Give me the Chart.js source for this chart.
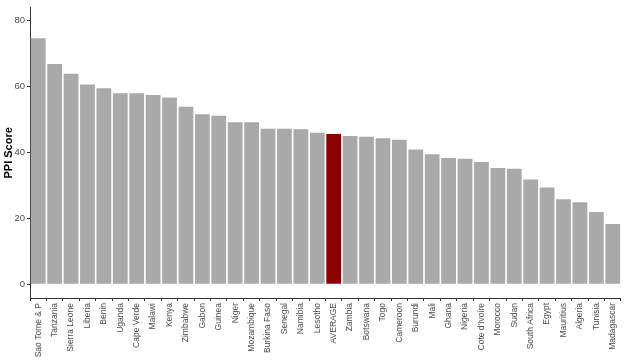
<!DOCTYPE html>
<html>
<head>
<meta charset="utf-8">
<script src="https://cdn.jsdelivr.net/npm/chart.js@4/dist/chart.umd.min.js"></script>
<style>
  html, body { margin: 0; padding: 0; background: #fff; }
  #wrap { width: 625px; height: 361px; position: relative; }
</style>
</head>
<body>
<div id="wrap"><canvas id="chart-ppi"></canvas></div>
<script>
// ── Data ──────────────────────────────────────────────────────────────────────
const countries = [
  'Sao Tome & P', 'Tanzania', 'Sierra Leone', 'Liberia', 'Benin', 'Uganda',
  'Cape Verde', 'Malawi', 'Kenya', 'Zimbabwe', 'Gabon', 'Guinea', 'Niger',
  'Mozambique', 'Burkina Faso', 'Senegal', 'Namibia', 'Lesotho', 'AVERAGE',
  'Zambia', 'Botswana', 'Togo', 'Cameroon', 'Burundi', 'Mali', 'Ghana',
  'Nigeria', "Cote d'Ivoire", 'Morocco', 'Sudan', 'South Africa', 'Egypt',
  'Mauritius', 'Algeria', 'Tunisia', 'Madagascar',
];
const ppiScores = [
  74.7, 66.9, 63.9, 60.7, 59.5, 58.0,
  58.0, 57.5, 56.7, 53.9, 51.6, 51.2, 49.2,
  49.2, 47.2, 47.2, 47.1, 46.0, 45.6,
  45.0, 44.8, 44.3, 43.9, 40.9, 39.5, 38.3,
  38.1, 37.1, 35.3, 35.1, 31.8, 29.4,
  25.8, 24.9, 21.9, 18.3,
];
const highlightLabel = 'AVERAGE';

const GREY = '#a9a9a9';
const RED = '#8b0000';
const AXIS = '#333333';
const TICK_TEXT = '#4d4d4d';
const FONT = "'Liberation Sans', Arial, sans-serif";

const barColors = countries.map(c => (c === highlightLabel ? RED : GREY));

// ── Chart ─────────────────────────────────────────────────────────────────────
new Chart(document.getElementById('chart-ppi').getContext('2d'), {
  type: 'bar',
  data: {
    labels: countries,
    datasets: [{
      data: ppiScores,
      backgroundColor: barColors,
      borderWidth: 0,
      categoryPercentage: 1,
      barPercentage: 0.9,
    }],
  },
  options: {
    responsive: true,
    maintainAspectRatio: false,
    animation: false,
    layout: { padding: { top: 2, right: 3, left: 0, bottom: 0 } },
    plugins: { legend: { display: false }, tooltip: { enabled: false } },
    scales: {
      x: {
        offset: true,
        grid: { drawOnChartArea: false, drawTicks: true, tickLength: 3, color: AXIS },
        border: { display: true, color: AXIS, width: 1 },
        ticks: {
          autoSkip: false, maxRotation: 90, minRotation: 90, padding: 2,
          color: TICK_TEXT, font: { family: FONT, size: 8.5 },
        },
        afterFit: (s) => { s.height = 63; },
      },
      y: {
        min: -4.2,
        max: 84,
        grid: { drawOnChartArea: false, drawTicks: true, tickLength: 3, color: AXIS },
        border: { display: true, color: AXIS, width: 1 },
        ticks: { stepSize: 20, padding: 2, color: TICK_TEXT, font: { family: FONT, size: 9.5 } },
        afterBuildTicks: (s) => { s.ticks = s.ticks.filter(t => t.value % 20 === 0); },
        title: {
          display: true, text: 'PPI Score', color: '#000',
          font: { family: FONT, size: 11, weight: 'bold' }, padding: { top: 2, bottom: 2 },
        },
        afterFit: (s) => { s.width = 30; },
      },
    },
  },
});
</script>
</body>
</html>
